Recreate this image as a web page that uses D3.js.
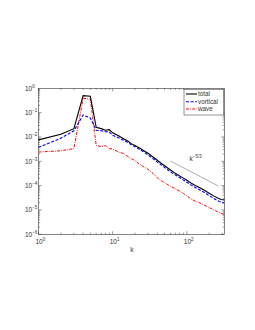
<!DOCTYPE html>
<html>
<head>
<meta charset="utf-8">
<script src="https://cdn.jsdelivr.net/npm/d3@7"></script>
<style>
  body { margin: 0; background: #fff; }
  svg { display: block; font-family: "Liberation Sans", Arial, sans-serif; }
</style>
</head>
<body>
<div id="chart"></div>
<script>
// wavenumbers
const kVals = [1, 2, 3, 4, 5, 6, 7, 8, 9, 10, 12, 14, 16, 18, 20, 23, 26, 30, 35, 40, 46, 53, 60, 70, 80, 90, 100, 115, 130, 150, 170, 200, 230, 260, 290, 320];

// spectra
const total = [0.0076, 0.013, 0.022, 0.50, 0.47, 0.025, 0.022, 0.019, 0.020, 0.0148, 0.0112, 0.0085, 0.0068, 0.0052, 0.0045, 0.0035, 0.0028, 0.00214, 0.00151, 0.0011, 0.00079, 0.00058, 0.00044, 0.00032, 0.00025, 0.000204, 0.000166, 0.000126, 0.000102, 8.1e-5, 6.6e-5, 4.9e-5, 3.8e-5, 3.1e-5, 2.7e-5, 2.6e-5];
const vortical = [0.0037, 0.0089, 0.018, 0.08, 0.06, 0.019, 0.018, 0.0166, 0.0158, 0.0117, 0.0093, 0.0074, 0.0059, 0.0047, 0.004, 0.0031, 0.00245, 0.00182, 0.00129, 0.00093, 0.00068, 0.00049, 0.00037, 0.000275, 0.000214, 0.00017, 0.000138, 0.000105, 8.3e-5, 6.6e-5, 5.4e-5, 3.9e-5, 3.0e-5, 2.4e-5, 2.1e-5, 1.95e-5];
const wave = [0.0024, 0.0027, 0.0033, 0.39, 0.36, 0.0045, 0.004, 0.0044, 0.0033, 0.0032, 0.0024, 0.0021, 0.00158, 0.00126, 0.00107, 0.00076, 0.0006, 0.00047, 0.000316, 0.00021, 0.000155, 0.00012, 9.3e-5, 7.6e-5, 5.9e-5, 4.8e-5, 3.8e-5, 2.8e-5, 2.3e-5, 1.95e-5, 1.6e-5, 1.26e-5, 1.02e-5, 8.5e-6, 7.2e-6, 6.5e-6];

const seriesNames = ["total", "vortical", "wave"];
const xTicks = [1, 10, 100];
const yTicks = [1e-6, 1e-5, 1e-4, 1e-3, 1e-2, 1e-1, 1];

// reference slope line k^-5/3
const refK = [60, 267];
const refE = [1.03e-3, 9.6e-5];

const width = 255, height = 330;
const margin = {left: 38.5, top: 88.3, right: 255 - 224.3, bottom: 330 - 234.3};

const svg = d3.select("#chart").append("svg")
    .attr("width", width)
    .attr("height", height);

const x = d3.scaleLog().domain([1, 320]).range([margin.left, width - margin.right]);
const y = d3.scaleLog().domain([1e-6, 1]).range([height - margin.bottom, margin.top]);

const x0 = x.range()[0], x1 = x.range()[1], y0 = y.range()[0], y1 = y.range()[1];
const axisColor = "#333";

// minor + major ticks, inward on all four sides (matlab box)
const minorX = [];
for (let d = 1; d <= 100; d *= 10) for (let m = 1; m < 10; m++) if (d * m <= 320) minorX.push(d * m);
const minorY = [];
for (let d = 1e-6; d < 1; d *= 10) for (let m = 1; m < 10; m++) minorY.push(d * m);

const tickG = svg.append("g").attr("stroke", axisColor).attr("stroke-width", 0.5);
minorX.forEach(v => {
    const len = xTicks.includes(v) ? 3 : 1.6;
    const px = x(v);
    tickG.append("line").attr("x1", px).attr("x2", px).attr("y1", y0).attr("y2", y0 - len);
    tickG.append("line").attr("x1", px).attr("x2", px).attr("y1", y1).attr("y2", y1 + len);
});
minorY.forEach(v => {
    const major = yTicks.some(t => Math.abs(t - v) / t < 1e-6);
    const len = major ? 3 : 1.6;
    const py = y(v);
    tickG.append("line").attr("x1", x0).attr("x2", x0 + len).attr("y1", py).attr("y2", py);
    tickG.append("line").attr("x1", x1).attr("x2", x1 - len).attr("y1", py).attr("y2", py);
});

svg.append("rect")
    .attr("x", x0).attr("y", y1)
    .attr("width", x1 - x0).attr("height", y0 - y1)
    .attr("fill", "none").attr("stroke", axisColor).attr("stroke-width", 0.6);

// tick labels
function powLabel(sel, exp) {
    sel.append("tspan").text("10");
    sel.append("tspan").attr("dy", -3).attr("font-size", 4.5).text(exp);
}
xTicks.forEach(v => {
    const t = svg.append("text")
        .attr("x", x(v) - 3).attr("y", y0 + 10)
        .attr("font-size", 6.5).attr("fill", axisColor);
    powLabel(t, Math.round(Math.log10(v)));
});
yTicks.forEach(v => {
    const t = svg.append("text")
        .attr("x", x0 - 13.5).attr("y", y(v) + 2.3)
        .attr("font-size", 6.5).attr("fill", axisColor);
    powLabel(t, Math.round(Math.log10(v)) === 0 ? "0" : "\u2212" + Math.abs(Math.round(Math.log10(v))));
});

svg.append("text")
    .attr("x", (x0 + x1) / 2 + 0.5).attr("y", y0 + 18)
    .attr("text-anchor", "middle")
    .attr("font-size", 6.5).attr("fill", axisColor)
    .text("k");

// spectra
const line = d3.line().x(d => x(d[0])).y(d => y(d[1]));
const styles = [
    {data: total, color: "#000", dash: null, width: 1.1},
    {data: vortical, color: "#0000ff", dash: "3,1.6", width: 1.1},
    {data: wave, color: "#ff0000", dash: "3,1.2,0.8,1.2", width: 1.0}
];
styles.slice().reverse().forEach(s => {
    svg.append("path")
        .datum(kVals.map((k, i) => [k, s.data[i]]))
        .attr("d", line)
        .attr("fill", "none")
        .attr("stroke", s.color)
        .attr("stroke-width", s.width)
        .attr("stroke-dasharray", s.dash);
});

// k^-5/3 guide
svg.append("line")
    .attr("x1", x(refK[0])).attr("y1", y(refE[0]))
    .attr("x2", x(refK[1])).attr("y2", y(refE[1]))
    .attr("stroke", "#777").attr("stroke-width", 0.6);
const refLabel = svg.append("text")
    .attr("x", 189.5).attr("y", 161)
    .attr("font-size", 6.5).attr("fill", axisColor);
refLabel.append("tspan").text("k");
refLabel.append("tspan").attr("dy", -3).attr("font-size", 4.5).text("\u22125/3");

// legend
const lg = svg.append("g");
lg.append("rect")
    .attr("x", 184).attr("y", 89.3)
    .attr("width", 39.6).attr("height", 25.7)
    .attr("fill", "#fff").attr("stroke", axisColor).attr("stroke-width", 0.5);
const legendY = [94, 101.7, 109];
styles.forEach((s, i) => {
    lg.append("line")
        .attr("x1", 186).attr("x2", 197)
        .attr("y1", legendY[i]).attr("y2", legendY[i])
        .attr("stroke", s.color)
        .attr("stroke-width", s.width)
        .attr("stroke-dasharray", s.dash);
    lg.append("text")
        .attr("x", 198).attr("y", legendY[i] + 2.2)
        .attr("font-size", 6.3).attr("fill", axisColor)
        .text(seriesNames[i]);
});
</script>
</body>
</html>
